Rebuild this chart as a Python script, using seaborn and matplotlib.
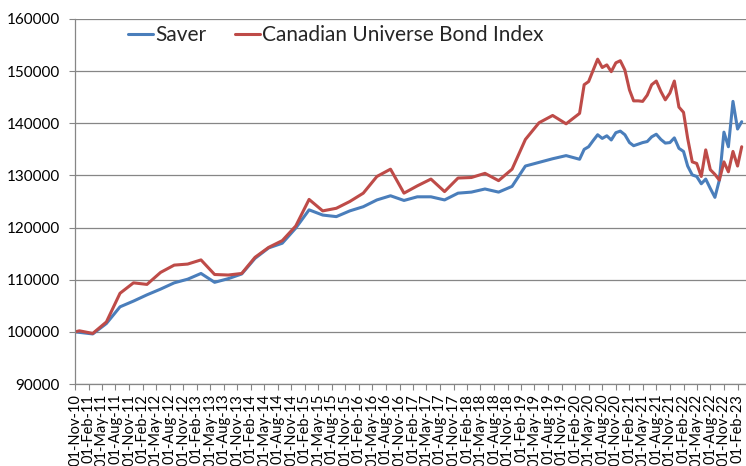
import pandas as pd
import seaborn as sns
import matplotlib.pyplot as plt
from matplotlib.ticker import MultipleLocator, FuncFormatter
import warnings
warnings.filterwarnings('ignore')

# DATA
# quarterly readings up to Dec-19, monthly readings from Mar-20
quarter_dates = [pd.Timestamp('2010-11-01')] + list(pd.date_range('2010-12-01', '2019-12-01', freq='3MS'))
month_dates = list(pd.date_range('2020-03-01', '2023-03-01', freq='MS'))
dates = quarter_dates + month_dates

saver = [100000, 99900, 99600, 101600, 104800, 105900, 107100, 108200, 109400, 110100,
         111200, 109500, 110200, 111100, 114100, 116100, 117000, 119900, 123400, 122400,
         122100, 123200, 124000, 125300, 126100, 125200, 125900, 125900, 125300, 126600,
         126800, 127400, 126800, 127900, 131800, 132500, 133200, 133800,
         133100, 135000, 135500, 136700, 137800, 137100, 137600, 136800, 138200, 138500,
         137800, 136300, 135700, 136000, 136300, 136500, 137400, 137900, 136900, 136200,
         136300, 137200, 135200, 134600, 131800, 130100, 129800, 128400, 129300, 127500,
         125800, 129100, 138300, 135500, 144200, 138900, 140300]

bond_index = [100000, 100200, 99700, 101900, 107400, 109400, 109100, 111400, 112800, 113000,
              113800, 111000, 110900, 111200, 114300, 116200, 117500, 120300, 125400, 123200,
              123700, 125000, 126600, 129800, 131200, 126600, 128000, 129300, 126900, 129500,
              129600, 130400, 129000, 131200, 136900, 140100, 141500, 139900,
              141900, 147400, 148000, 150200, 152300, 150700, 151200, 149900, 151600, 152000,
              150200, 146400, 144300, 144300, 144200, 145400, 147400, 148100, 146100, 144500,
              145800, 148100, 143100, 142100, 137100, 132600, 132300, 129800, 134900, 131100,
              130200, 129100, 132600, 130700, 134600, 131800, 135500]

series_names = ['Saver', 'Canadian Universe Bond Index']
colors = {'Saver': '#4A7EBB', 'Canadian Universe Bond Index': '#BE4B48'}

tick_dates = pd.date_range('2010-11-01', '2023-02-01', freq='3MS')

df = pd.DataFrame({
    'date': dates * 2,
    'value': saver + bond_index,
    'series': [series_names[0]] * len(dates) + [series_names[1]] * len(dates),
})

# PLOT
sns.set_style('white')
plt.rcParams['font.family'] = ['Lato', 'DejaVu Sans']

fig = plt.figure(figsize=(7.46, 4.66), dpi=100)
ax = fig.add_axes([75 / 746, 1 - 384 / 466, 671 / 746, 365 / 466])

sns.lineplot(data=df, x='date', y='value', hue='series', palette=colors,
             linewidth=2.2, ax=ax)

ax.set_xlim(pd.Timestamp('2010-11-01'), pd.Timestamp('2023-03-30'))
ax.set_ylim(90000, 160000)
ax.yaxis.set_major_locator(MultipleLocator(10000))
ax.yaxis.set_major_formatter(FuncFormatter(lambda v, p: f'{int(v)}'))
ax.set_xticks(tick_dates)
ax.set_xticklabels([d.strftime('%d-%b-%y') for d in tick_dates])
ax.set_xlabel('')
ax.set_ylabel('')

ax.grid(axis='y', color='#868686', linewidth=0.9)
ax.grid(axis='x', visible=False)
ax.set_axisbelow(True)
for side in ['top', 'right']:
    ax.spines[side].set_visible(False)
for side in ['left', 'bottom']:
    ax.spines[side].set_color('#868686')
    ax.spines[side].set_linewidth(0.9)

ax.tick_params(axis='y', left=True, length=4, color='#868686', labelsize=11,
               labelcolor='black', pad=7)
ax.tick_params(axis='x', bottom=True, length=4, color='#868686', labelsize=10.5,
               labelcolor='black', labelrotation=90, pad=3)

handles, labels = ax.get_legend_handles_labels()
ax.legend(handles=handles, labels=labels, loc='center left',
          bbox_to_anchor=(128 / 746, 1 - 35 / 466), bbox_transform=fig.transFigure,
          ncol=2, frameon=False, fontsize=15, handlelength=1.2, handletextpad=0.1,
          columnspacing=1.4, borderpad=0, borderaxespad=0)

fig.savefig('out.png', dpi=100)
